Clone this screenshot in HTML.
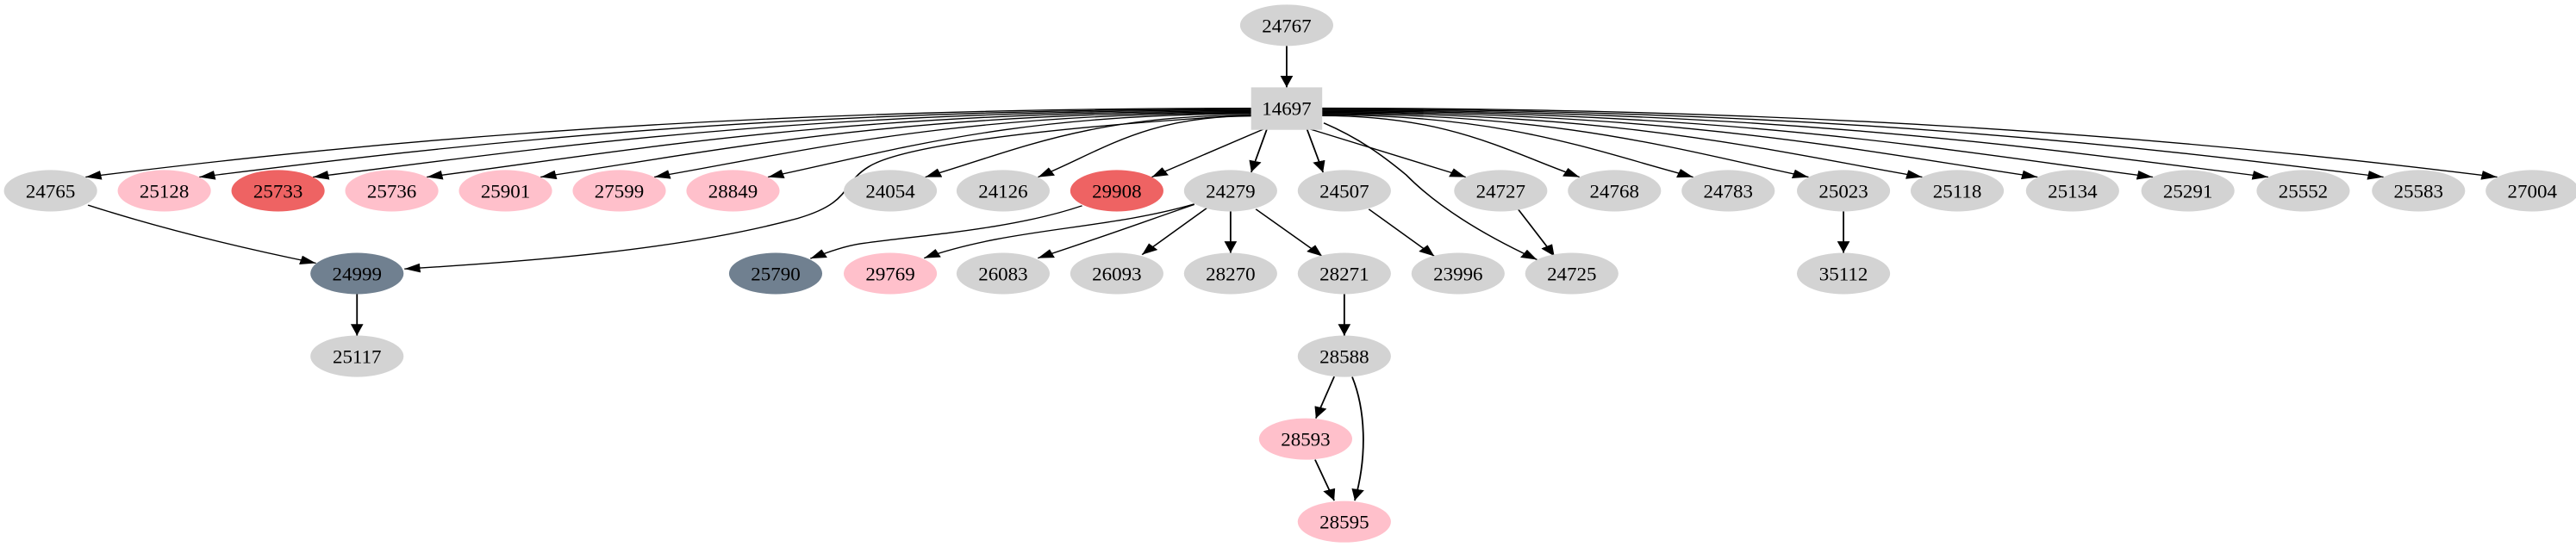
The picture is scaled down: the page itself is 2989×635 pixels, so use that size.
<!DOCTYPE html>
<html><head><meta charset="utf-8"><style>html,body{margin:0;padding:0;background:#fff;}svg{display:block;}</style></head>
<body>
<svg id="g" width="2989" height="635" viewBox="0 0 1630.7 476" preserveAspectRatio="none" xmlns="http://www.w3.org/2000/svg">
<defs><marker id="a" markerWidth="10" markerHeight="8" refX="10" refY="4" orient="auto" markerUnits="userSpaceOnUse"><polygon points="0,0 10,4 0,8" fill="#000"/></marker></defs>
<g id="edges" fill="none" stroke="#000" stroke-width="1"></g>
<g id="nodes" font-family="'Liberation Serif', serif" font-size="16.5" text-anchor="middle">
<rect x="792" y="76" width="45" height="37" fill="#d3d3d3"/><text transform="translate(814.5,100) scale(0.76,1)">14697</text>
<ellipse cx="814.5" cy="22" rx="29.5" ry="18" fill="#d3d3d3"/><text transform="translate(814.5,28) scale(0.76,1)">24767</text>
</g>
</svg>
<script>
var N=document.getElementById('nodes'),E=document.getElementById('edges'),S='http://www.w3.org/2000/svg';
function node(l,x,y,c){var e=document.createElementNS(S,'ellipse');e.setAttribute('cx',x);e.setAttribute('cy',y);e.setAttribute('rx',29.5);e.setAttribute('ry',18);e.setAttribute('fill',c);N.appendChild(e);var t=document.createElementNS(S,'text');t.setAttribute('transform','translate('+x+','+(y+6)+') scale(0.76,1)');t.textContent=l;N.appendChild(t);}
function path(d){var p=document.createElementNS(S,'path');p.setAttribute('d',d);p.setAttribute('marker-end','url(#a)');E.appendChild(p);}
var G='#d3d3d3',P='#ffc0cb',R='#ee6363',B='#708090';
var row3=[['24765',32,G],['25128',104,P],['25733',176,R],['25736',248,P],['25901',320,P],['27599',392,P],['28849',464,P],['24054',563.6,G],['24126',635,G],['29908',707,R],['24279',779,G],['24507',851,G],['24727',950,G],['24768',1022,G],['24783',1094,G],['25023',1167,G],['25118',1239,G],['25134',1312,G],['25291',1385,G],['25552',1458,G],['25583',1531,G],['27004',1603,G]];
row3.forEach(function(n){var xt=n[1],dx=814.5-xt,u=Math.max(-0.75,Math.min(0.75,dx/80));var tx=xt+u*29.5,ty=166-Math.sqrt(1-u*u)*18;var x0,y0,d;
if(Math.abs(dx)<150){x0=814.5-Math.max(-14,Math.min(14,dx*0.35));y0=112;d='M'+x0+','+y0+' L'+tx+','+ty;}
else{var s=dx>0?1:-1;x0=dx>0?792:837;y0=94+9*(1-Math.min(Math.abs(dx),800)/800);var c1x=x0+(tx-x0)*0.5,c2x=tx+s*Math.min(Math.abs(dx)*0.22,130);d='M'+x0+','+y0+' C'+c1x+','+y0+' '+c2x+','+(ty-22)+' '+tx+','+ty;}
path(d);});
row3.forEach(function(n){node(n[0],n[1],166,n[2]);});
[['24999',226,B],['25790',491,B],['29769',563.6,P],['26083',635,G],['26093',707,G],['28270',779,G],['28271',851,G],['23996',923,G],['24725',995,G],['35112',1167,G]].forEach(function(n){node(n[0],n[1],238,n[2]);});
node('25117',226,310,G);node('28588',851,310,G);node('28593',826.5,382,P);node('28595',851,454,P);
['M814.5,40 L814.5,76',
'M792,100 C650,112 570,128 550,145 C532,160 540,176 505,190 C430,218 330,228 256,234',
'M55.7,178.5 C100,198 150,215 200,229',
'M226,256 L226,292',
'M685,179 C640,200 580,205 545,212 C535,214 525,219 513,225',
'M756,177.6 C700,200 640,198 585,224.6',
'M756,178 C720,195 690,210 657,224.6',
'M764,181 L723,221.6',
'M779,184 L779,220',
'M795,182 L837,223',
'M866.5,182 L908,223',
'M838,107 C860,120 875,135 890,152 C910,180 940,205 973,226',
'M961,182 L984,223',
'M1167,184 L1167,220',
'M851,256 L851,292',
'M844.6,327.7 L833,364',
'M856,328 C864,355 866,395 857.6,435.6',
'M832.5,400 L844.6,435.6'].forEach(path);
</script>
</body></html>
